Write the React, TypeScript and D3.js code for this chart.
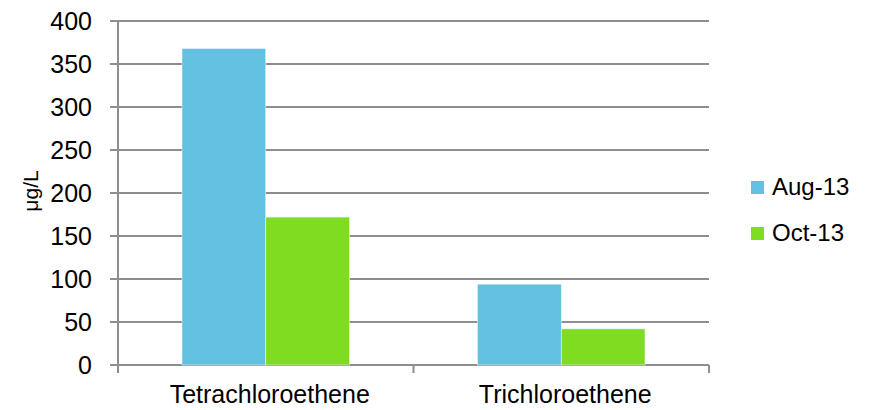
import React from "react";
import * as d3 from "d3";

const categories = ["Tetrachloroethene", "Trichloroethene"];
const seriesNames = ["Aug-13", "Oct-13"];
const aug13 = [368, 94];
const oct13 = [172, 42];
const yTicks = [0, 50, 100, 150, 200, 250, 300, 350, 400];
const colors = ["#62C0E0", "#7EDC21"];

const W = 875;
const H = 410;
const plot = { left: 118, right: 709, top: 21, bottom: 365 };
const font = "'Liberation Sans', Arial, sans-serif";

export default function App() {
  const values = [aug13, oct13];
  const y = d3.scaleLinear().domain([0, 400]).range([plot.bottom, plot.top]);
  const x0 = d3.scaleBand<string>().domain(categories).range([plot.left, plot.right]);
  const bw = x0.bandwidth();
  const gap = bw * 0.2166;
  const x1 = d3.scaleBand<string>().domain(seriesNames).range([gap, bw - gap]);

  return (
    <svg width={W} height={H} style={{ position: "absolute", left: 0, top: 0 }}>
      <rect width={W} height={H} fill="#fff" />
      {yTicks.map((t) => (
        <g key={t}>
          <line x1={plot.left - 8} x2={plot.right} y1={y(t)} y2={y(t)} stroke="#8e8e8e" strokeWidth={2} />
          <text x={92} y={y(t) + 9} textAnchor="end" fontFamily={font} fontSize={25} fill="#000">
            {t}
          </text>
        </g>
      ))}
      <line x1={plot.left} x2={plot.left} y1={plot.top} y2={plot.bottom} stroke="#8e8e8e" strokeWidth={2} />
      {[...categories.map((c) => x0(c)!), plot.right].map((xv, i) => (
        <line key={i} x1={xv} x2={xv} y1={plot.bottom} y2={plot.bottom + 8} stroke="#8e8e8e" strokeWidth={2} />
      ))}
      {categories.map((c, ci) =>
        seriesNames.map((s, si) => {
          const v = values[si][ci];
          const bx = x0(c)! + x1(s)!;
          return (
            <rect
              key={c + s}
              x={bx}
              y={y(v)}
              width={x1.bandwidth()}
              height={y(0) - y(v)}
              fill={colors[si]}
              stroke="#e8f4f8"
              strokeWidth={0.6}
            />
          );
        })
      )}
      {categories.map((c) => (
        <text key={c} x={x0(c)! + bw / 2 + 4} y={403} textAnchor="middle" fontFamily={font} fontSize={25} fill="#000">
          {c}
        </text>
      ))}
      <text
        transform={`translate(38, 191) rotate(-90)`}
        textAnchor="middle"
        fontFamily={font}
        fontSize={21}
        fill="#000"
      >
        μg/L
      </text>
      {seriesNames.map((s, i) => (
        <g key={s} transform={`translate(751, ${181 + i * 46})`}>
          <rect x={0} y={0} width={13} height={13} fill={colors[i]} />
          <text x={21} y={14} fontFamily={font} fontSize={24} fill="#000">
            {s}
          </text>
        </g>
      ))}
    </svg>
  );
}
